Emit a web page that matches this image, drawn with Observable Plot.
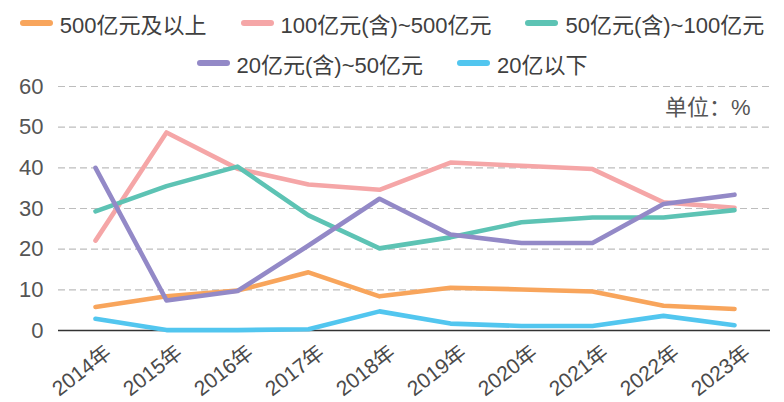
<!DOCTYPE html>
<html>
<head>
<meta charset="utf-8">
<script src="https://cdn.jsdelivr.net/npm/d3@7"></script>
<script src="https://cdn.jsdelivr.net/npm/@observablehq/plot@0.6"></script>
<style>
  html, body { margin: 0; padding: 0; background: #fff; }
  #wrap { position: relative; width: 784px; height: 402px; overflow: hidden;
          font-family: 'Liberation Sans', 'Noto Sans CJK SC', sans-serif; }
  .row { position: absolute; left: 0; width: 784px; height: 40px; display: flex; z-index: 2;
         justify-content: center; align-items: center; gap: 34px; }
  .item { display: flex; align-items: center; gap: 7px; font-size: 22px; color: #404040; white-space: nowrap; }
  .sw { width: 33px; height: 6px; border-radius: 3px; }
  #chart { position: absolute; left: 0; top: 58px; z-index: 1; }
</style>
</head>
<body>
<div id="wrap">
  <div class="row" id="row1" style="top:3px"></div>
  <div class="row" id="row2" style="top:43px"></div>
  <div id="chart"></div>
</div>
<script>
const years = ["2014年","2015年","2016年","2017年","2018年","2019年","2020年","2021年","2022年","2023年"];
const seriesNames = ["500亿元及以上","100亿元(含)~500亿元","50亿元(含)~100亿元","20亿元(含)~50亿元","20亿以下"];
const colors = ["#F8A55C","#F5A6A7","#5DC3B4","#9389C7","#52C6EF"];
const s500 = [5.8, 8.4, 9.8, 14.3, 8.4, 10.5, 10.1, 9.6, 6.1, 5.3];
const s100 = [22.1, 48.7, 39.8, 35.9, 34.6, 41.3, 40.5, 39.7, 31.5, 30.2];
const s50  = [29.3, 35.5, 40.3, 28.3, 20.2, 22.9, 26.6, 27.8, 27.8, 29.6];
const s20  = [40.0, 7.4, 9.7, 20.9, 32.4, 23.6, 21.5, 21.5, 31.1, 33.4];
const sLow = [2.9, 0.1, 0.1, 0.3, 4.7, 1.7, 1.1, 1.1, 3.6, 1.3];
const yTicks = [0, 10, 20, 30, 40, 50, 60];
const unitLabel = "单位：%";

const allSeries = [s500, s100, s50, s20, sLow];
const rows = [];
allSeries.forEach((vals, si) => vals.forEach((v, i) => rows.push({series: seriesNames[si], year: years[i], value: v})));

// legend
const legendRows = [[0,1,2],[3,4]];
legendRows.forEach((idxs, r) => {
  const el = document.getElementById(r === 0 ? "row1" : "row2");
  idxs.forEach(i => {
    const it = document.createElement("div");
    it.className = "item";
    const sw = document.createElement("div");
    sw.className = "sw";
    sw.style.background = colors[i];
    const tx = document.createElement("span");
    tx.textContent = seriesNames[i];
    it.appendChild(sw); it.appendChild(tx);
    el.appendChild(it);
  });
});

const plot = Plot.plot({
  width: 784,
  height: 344,
  marginTop: 28,
  marginBottom: 72,
  marginLeft: 58,
  marginRight: 14,
  style: {fontFamily: "'Liberation Sans', 'Noto Sans CJK SC', sans-serif", background: "none"},
  x: {type: "point", domain: years, padding: 0.5, axis: null},
  y: {domain: [0, 60], axis: null},
  color: {domain: seriesNames, range: colors},
  marks: [
    Plot.gridY(yTicks.filter(d => d > 0), {stroke: "#bdbdbd", strokeOpacity: 1, strokeWidth: 1.2, strokeDasharray: "7,4"}),
    Plot.ruleY([0], {stroke: "#333", strokeWidth: 1.4}),
    Plot.axisY(yTicks, {tickSize: 0, tickPadding: 15, fontSize: 22, fill: "#555", label: null, tickFormat: d => String(d)}),
    Plot.text(years, {x: d => d, frameAnchor: "bottom", rotate: -38, textAnchor: "end", lineAnchor: "top", dx: 8, dy: 13, fontSize: 21, fill: "#4a4a4a"}),
    Plot.line(rows, {x: "year", y: "value", z: "series", stroke: "series", strokeWidth: 4.6, strokeLinejoin: "round", strokeLinecap: "round", curve: "linear"}),
    Plot.text([unitLabel], {frameAnchor: "top-right", dx: -20, dy: 21, lineAnchor: "middle", textAnchor: "end", fontSize: 22, fill: "#555"})
  ]
});
document.getElementById("chart").appendChild(plot);
</script>
</body>
</html>
